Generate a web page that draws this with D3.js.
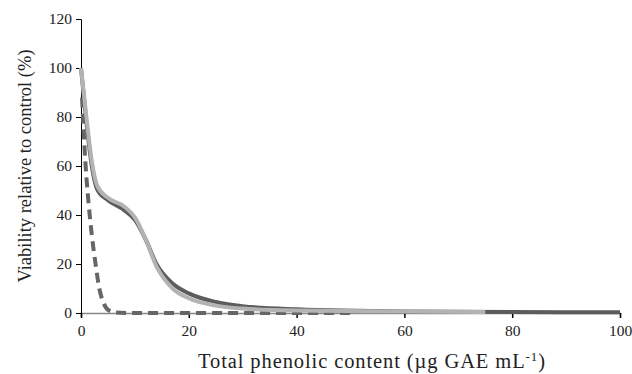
<!DOCTYPE html>
<html>
<head>
<meta charset="utf-8">
<script src="https://cdn.jsdelivr.net/npm/d3@7"></script>
<style>
  body { margin: 0; background: #fff; }
  svg text { font-family: "Liberation Serif", "Times New Roman", serif; fill: #222; }
</style>
</head>
<body>
<div id="chart"></div>
<script>
const xTicks = [0, 20, 40, 60, 80, 100];
const yTicks = [0, 20, 40, 60, 80, 100, 120];

// dark solid series
const darkSeries = [
  [0, 100], [1, 78], [2, 60], [3, 50.5], [5, 46], [8, 42], [10, 38], [12, 30],
  [14, 20], [17, 12], [20, 8], [25, 4.5], [30, 2.8], [40, 1.5], [60, 0.6], [80, 0.4], [100, 0.3]
];
// light grey series
const lightSeries = [
  [0, 100], [1, 80], [2, 62], [3, 52], [5, 47], [8, 43.5], [10, 39], [12, 30],
  [14, 19], [17, 10], [20, 6], [25, 3], [30, 1.8], [40, 1], [60, 0.6], [75, 0.4]
];
// dashed series
const dashedSeries = [
  [0.2, 88], [0.8, 62], [1.4, 45], [2, 32], [2.7, 20], [3.4, 10], [4.2, 4],
  [5.2, 1], [6.5, 0.2], [10, 0], [50, 0]
];

const width = 632, height = 374;
const margin = { top: 19, right: 12, bottom: 61, left: 81 };

const svg = d3.select('#chart').append('svg')
  .attr('width', width)
  .attr('height', height);

const x = d3.scaleLinear().domain([0, 100]).range([margin.left, width - margin.right]);
const y = d3.scaleLinear().domain([0, 120]).range([height - margin.bottom, margin.top]);

// X axis
const xAxis = svg.append('g')
  .attr('transform', `translate(0,${y(0)})`)
  .call(d3.axisBottom(x).tickValues(xTicks).tickSize(5).tickPadding(7));
xAxis.select('.domain').attr('stroke', '#888').attr('stroke-width', 1.5);
xAxis.selectAll('.tick line').attr('stroke', '#000').attr('stroke-width', 1.5);
xAxis.selectAll('text').attr('font-size', 15.5).style('font-family', '"Liberation Serif", serif').attr('fill', '#222');

// Y axis
const yAxis = svg.append('g')
  .attr('transform', `translate(${x(0)},0)`)
  .call(d3.axisLeft(y).tickValues(yTicks).tickSize(5).tickPadding(4));
yAxis.select('.domain').attr('stroke', '#000').attr('stroke-width', 1);
yAxis.selectAll('.tick line').attr('stroke', '#000');
yAxis.selectAll('text').attr('font-size', 15.5).style('font-family', '"Liberation Serif", serif').attr('fill', '#222');

const line = d3.line()
  .x(d => x(d[0]))
  .y(d => y(d[1]))
  .curve(d3.curveMonotoneX);

svg.append('path').datum(dashedSeries)
  .attr('d', line)
  .attr('fill', 'none')
  .attr('stroke', '#666')
  .attr('stroke-width', 4)
  .attr('stroke-dasharray', '10,6');

svg.append('path').datum(darkSeries)
  .attr('d', line)
  .attr('fill', 'none')
  .attr('stroke', '#5c5c5c')
  .attr('stroke-width', 4);

svg.append('path').datum(lightSeries)
  .attr('d', line)
  .attr('fill', 'none')
  .attr('stroke', '#b3b3b3')
  .attr('stroke-width', 4);

// Axis titles
svg.append('text')
  .attr('transform', `translate(31,${(y(0) + y(120)) / 2}) rotate(-90)`)
  .attr('text-anchor', 'middle')
  .attr('font-size', 18.5)
  .text('Viability relative to control (%)');

const xt = svg.append('text')
  .attr('x', 372)
  .attr('y', 368)
  .attr('text-anchor', 'middle')
  .attr('font-size', 20.5)
  .style('letter-spacing', '0.9px');
xt.append('tspan').text('Total phenolic content (µg GAE mL');
xt.append('tspan').attr('font-size', 13).attr('dy', -7).text('-1');
xt.append('tspan').attr('dy', 7).text(')');
</script>
</body>
</html>
